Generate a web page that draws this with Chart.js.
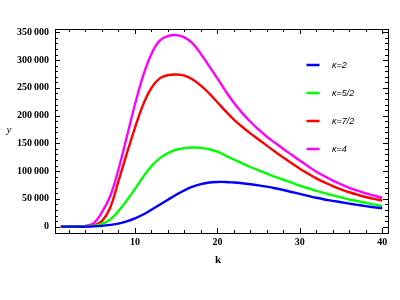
<!DOCTYPE html>
<html>
<head>
<meta charset="utf-8">
<script src="https://cdn.jsdelivr.net/npm/chart.js@4.4.0/dist/chart.umd.min.js"></script>
<style>
  html, body { margin: 0; padding: 0; background: #fff; }
</style>
</head>
<body>
<canvas id="kappaChart" width="400" height="300"></canvas>
<script>
const kValues = [1, 2, 3, 4, 5, 6, 7, 8, 9, 10, 11, 12, 13, 14, 15, 16, 17, 18, 19, 20,
  21, 22, 23, 24, 25, 26, 27, 28, 29, 30, 31, 32, 33, 34, 35, 36, 37, 38, 39, 40];

const kappa2 = [0, 0, 0, 0, 500, 1500, 3200, 5500, 9500, 15000, 22000, 30500, 39500, 48500, 57500, 65500, 72000, 76500, 79500, 80500,
  80500, 79500, 78200, 76500, 74400, 72000, 69200, 66000, 62500, 59000, 55500, 52000, 49000, 46500, 44000, 41500, 39200, 37000, 35000, 33200];
const kappa52 = [0, 0, 0, 300, 1500, 5000, 13000, 28000, 47000, 68000, 90000, 109000, 123000, 132500, 138500, 141500, 142500, 142000, 139500, 135000,
  128000, 121000, 114000, 107500, 101300, 95500, 89800, 84500, 79200, 74000, 69200, 64500, 60400, 56500, 52700, 49000, 46000, 43000, 40100, 37300];
const kappa72 = [0, 0, 0, 500, 2000, 10000, 34000, 82000, 131000, 178000, 220000, 250000, 267000, 273000, 274000, 272000, 265000, 254000, 240000, 224000,
  208000, 193000, 180000, 168000, 157000, 146000, 135000, 124500, 114300, 104500, 95500, 87000, 79800, 73000, 67300, 62000, 57500, 53500, 50000, 47000];
const kappa4 = [0, 0, 200, 1500, 6500, 26000, 55000, 103000, 161000, 220000, 272000, 311000, 335000, 343000, 345000, 341000, 330000, 311000, 289000, 267000,
  244000, 223000, 205000, 189000, 175000, 162000, 151000, 140000, 129500, 119000, 108800, 99000, 90800, 83000, 76300, 70000, 64800, 60000, 55800, 52000];

const seriesLabels = ['\u03ba=2', '\u03ba=5/2', '\u03ba=7/2', '\u03ba=4'];
const seriesColors = ['#0000ff', '#00ff00', '#ff0000', '#ff00ff'];

const xTicks = [10, 20, 30, 40];
const yTicks = [0, 50000, 100000, 150000, 200000, 250000, 300000, 350000];

function points(values) {
  return kValues.map((k, i) => ({ x: k, y: values[i] }));
}

// Mathematica style frame with inward ticks on all four sides, legend and axis labels
const framePlugin = {
  id: 'frame',
  afterDatasetsDraw(chart) {
    const ctx = chart.ctx;
    const a = chart.chartArea;
    const xs = chart.scales.x;
    const ys = chart.scales.y;

    // legend box (white background, cuts the magenta line like in the original)
    ctx.save();
    ctx.fillStyle = '#fff';
    ctx.fillRect(309, 52, a.right - 310, 112);
    const legendY = [65, 93, 121, 149];
    seriesLabels.forEach((label, i) => {
      ctx.strokeStyle = seriesColors[i];
      ctx.lineWidth = 2.5;
      ctx.beginPath();
      ctx.moveTo(306.5, legendY[i]);
      ctx.lineTo(319.5, legendY[i]);
      ctx.stroke();
      ctx.fillStyle = '#000';
      ctx.font = 'italic 9px "Liberation Sans", Arial, sans-serif';
      ctx.textAlign = 'left';
      ctx.textBaseline = 'middle';
      ctx.fillText(label, 332, legendY[i] + 0.5);
    });
    ctx.restore();

    ctx.save();
    ctx.strokeStyle = '#000';
    ctx.lineWidth = 1;
    ctx.strokeRect(Math.round(a.left) + 0.5, Math.round(a.top) + 0.5,
      Math.round(a.right - a.left), Math.round(a.bottom - a.top));

    ctx.beginPath();
    for (let v = 2; v <= 40; v += 2) {
      const px = Math.round(xs.getPixelForValue(v)) + 0.5;
      const len = v % 10 === 0 ? 5 : 3;
      ctx.moveTo(px, a.bottom);
      ctx.lineTo(px, a.bottom - len);
      ctx.moveTo(px, a.top);
      ctx.lineTo(px, a.top + len);
    }
    for (let v = 0; v <= 350000; v += 10000) {
      const py = Math.round(ys.getPixelForValue(v)) + 0.5;
      const len = v % 50000 === 0 ? 5 : 3;
      ctx.moveTo(a.left, py);
      ctx.lineTo(a.left + len, py);
      ctx.moveTo(a.right, py);
      ctx.lineTo(a.right - len, py);
    }
    ctx.stroke();

    ctx.fillStyle = '#000';
    ctx.textAlign = 'center';
    ctx.textBaseline = 'middle';
    ctx.font = 'italic 11px "Liberation Serif", "DejaVu Serif", serif';
    ctx.fillText('y', 9, 130);
    ctx.font = 'bold 11px "Liberation Serif", "DejaVu Serif", serif';
    ctx.fillText('k', 218, 260);
    ctx.restore();
  }
};

new Chart(document.getElementById('kappaChart'), {
  type: 'line',
  data: {
    datasets: [kappa2, kappa52, kappa72, kappa4].map((vals, i) => ({
      label: seriesLabels[i],
      data: points(vals),
      borderColor: seriesColors[i],
      borderWidth: 2.4,
      pointRadius: 0,
      fill: false,
      tension: 0.4
    }))
  },
  options: {
    responsive: false,
    animation: false,
    devicePixelRatio: 1,
    layout: { padding: { top: 29, right: 12, left: 0, bottom: 0 } },
    plugins: {
      legend: { display: false },
      tooltip: { enabled: false }
    },
    scales: {
      x: {
        type: 'linear',
        min: 0.3,
        max: 40.7,
        grid: { display: false, drawTicks: false },
        border: { display: false },
        afterFit(scale) { scale.height = 67; },
        afterBuildTicks(scale) { scale.ticks = xTicks.map(v => ({ value: v })); },
        ticks: {
          padding: 3,
          maxRotation: 0,
          autoSkip: false,
          color: '#000',
          font: { family: '"Liberation Serif", "DejaVu Serif", serif', weight: 'bold', size: 10 }
        }
      },
      y: {
        min: -11400,
        max: 356000,
        grid: { display: false, drawTicks: false },
        border: { display: false },
        afterFit(scale) { scale.width = 55; },
        afterBuildTicks(scale) { scale.ticks = yTicks.map(v => ({ value: v })); },
        ticks: {
          padding: 6,
          autoSkip: false,
          color: '#000',
          font: { family: '"Liberation Serif", "DejaVu Serif", serif', weight: 'bold', size: 10 },
          callback: v => v === 0 ? '0' : (v / 1000) + '\u2009000'
        }
      }
    }
  },
  plugins: [framePlugin]
});
</script>
</body>
</html>
